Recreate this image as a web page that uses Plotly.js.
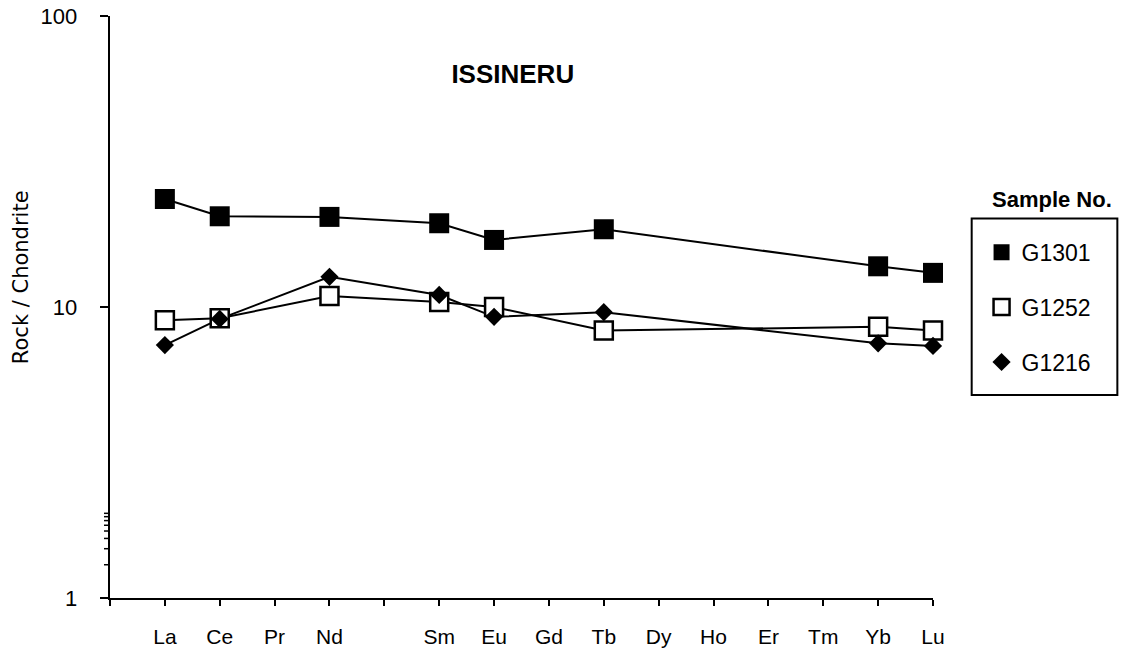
<!DOCTYPE html>
<html>
<head>
<meta charset="utf-8">
<script src="https://cdn.plot.ly/plotly-3.0.1.min.js"></script>
<style>html,body{margin:0;padding:0;background:#fff;}#chart{width:1127px;height:652px;}</style>
</head>
<body>
<div id="chart"></div>
<script>
// REE order on the x axis (Pm has no label)
const elements = ["La","Ce","Pr","Nd","Pm","Sm","Eu","Gd","Tb","Dy","Ho","Er","Tm","Yb","Lu"];
const elementLabels = ["La","Ce","Pr","Nd","","Sm","Eu","Gd","Tb","Dy","Ho","Er","Tm","Yb","Lu"];
// Measured elements
const measured = ["La","Ce","Nd","Sm","Eu","Tb","Yb","Lu"];
// Rock / Chondrite values
const G1301 = [23.5, 20.5, 20.4, 19.4, 17.0, 18.5, 13.8, 13.1];
const G1252 = [9.0, 9.15, 10.9, 10.4, 10.0, 8.3, 8.55, 8.3];
const G1216 = [7.4, 9.1, 12.7, 11.0, 9.25, 9.6, 7.5, 7.35];
// y ticks
const yTickVals = [1, 10, 100];
const yTickText = ["1", "10", "100"];
const yMinorVals = [2, 3, 4, 5, 6, 7, 8, 9, 20, 30, 40, 50, 60, 70, 80, 90];

const xPos = measured.map(e => elements.indexOf(e) + 1);
const tickVals = [0].concat(elements.map((e, i) => i + 1));
const tickText = [""].concat(elementLabels);
const pad = "\u00a0\u00a0\u00a0";

const series = [
  {name: "G1301", y: G1301, marker: {symbol: "square", size: 20, color: "#000", line: {width: 0}}},
  {name: "G1252", y: G1252, marker: {symbol: "square", size: 18, color: "#fff", line: {width: 2.5, color: "#000"}}},
  {name: "G1216", y: G1216, marker: {symbol: "diamond", size: 14, color: "#000", line: {width: 0}}}
];

const traces = [];
series.forEach(s => {
  traces.push({x: xPos, y: s.y, mode: "lines", type: "scatter", showlegend: false, cliponaxis: false,
    line: {color: "#000", width: 2}, hoverinfo: "skip"});
});
series.forEach((s, i) => {
  traces.push({x: xPos, y: s.y, mode: "markers", type: "scatter", name: s.name, cliponaxis: false,
    legendgroup: "g" + i, marker: s.marker});
});

// minor tick marks on the log y axis (shape coordinates on a log axis are given in log units)
const minorTickShapes = yMinorVals.map(v => ({
  type: "line", xref: "paper", yref: "y", xsizemode: "pixel", xanchor: 0, x0: -6, x1: 0,
  y0: Math.log10(v), y1: Math.log10(v), line: {color: "#000", width: 1.5}
}));

const font = "Liberation Sans, Arial, sans-serif";
const layout = {
  width: 1127, height: 652,
  margin: {l: 110, r: 194, t: 16, b: 54},
  paper_bgcolor: "#fff", plot_bgcolor: "#fff",
  font: {family: font, color: "#000", size: 21},
  title: {text: "<b>ISSINERU</b>", x: 0.455, xanchor: "center", y: 0.886, yanchor: "middle",
    yref: "container", font: {family: font, size: 26, color: "#000"}},
  xaxis: {
    range: [0, 15], tickmode: "array", tickvals: tickVals, ticktext: tickText,
    showline: true, linecolor: "#000", linewidth: 2, ticks: "outside", ticklen: 6, tickwidth: 2,
    tickcolor: "#000", showgrid: false, zeroline: false, ticklabelstandoff: 13,
    tickfont: {family: font, size: 21, color: "#000"}
  },
  yaxis: {
    type: "log", range: [0, 2], tickmode: "array", tickvals: yTickVals,
    ticktext: yTickText.map(t => t + pad),
    showline: true, linecolor: "#000", linewidth: 2, ticks: "outside", ticklen: 8, tickwidth: 2,
    tickcolor: "#000", showgrid: false, zeroline: false,
    tickfont: {family: font, size: 22, color: "#000"}
  },
  showlegend: true,
  legend: {
    x: 1.059, xanchor: "left", y: 0.631, yanchor: "top",
    bgcolor: "rgba(0,0,0,0)", borderwidth: 0, tracegroupgap: 22,
    font: {family: font, size: 23, color: "#000"}, traceorder: "grouped"
  },
  shapes: [
    {type: "rect", xref: "paper", yref: "paper", x0: 1.047, x1: 1.224, y0: 0.349, y1: 0.652,
     line: {color: "#000", width: 2}, fillcolor: "rgba(0,0,0,0)"}
  ].concat(minorTickShapes),
  annotations: [
    {text: "<b>Sample No.</b>", xref: "paper", yref: "paper", x: 1.1446, y: 0.684,
     xanchor: "center", yanchor: "middle", showarrow: false, font: {family: font, size: 22, color: "#000"}},
    {text: "Rock / Chondrite", xref: "paper", yref: "paper", x: -0.108, y: 0.5515, textangle: -90,
     xanchor: "center", yanchor: "middle", showarrow: false,
     font: {family: "DejaVu Sans, sans-serif", size: 21, color: "#000"}}
  ]
};

Plotly.newPlot("chart", traces, layout, {displayModeBar: false});
</script>
</body>
</html>
